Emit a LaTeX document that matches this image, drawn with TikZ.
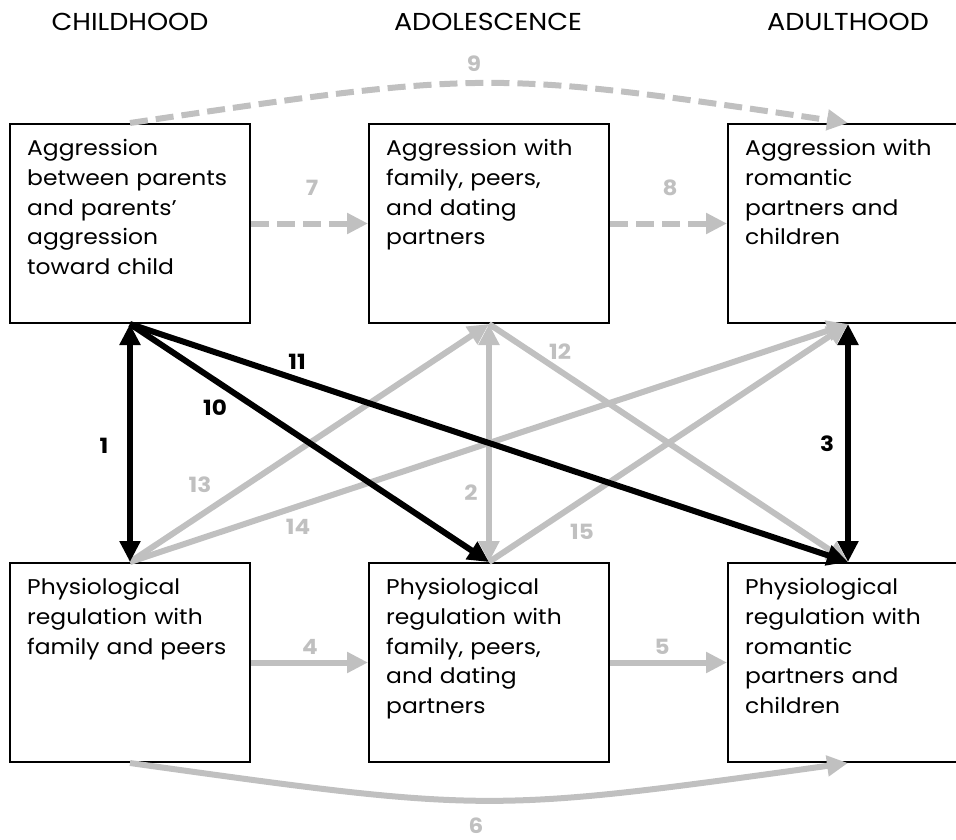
\documentclass[tikz,border=0pt]{standalone}
\usepackage{fontspec}
\setmainfont{Poppins}[FakeStretch=1.1]
\usetikzlibrary{arrows.meta}
\definecolor{pathgray}{RGB}{192,192,192}
\begin{document}
\begin{tikzpicture}[x=1pt,y=-1pt,
  box/.style={draw,line width=2pt,minimum width=240pt,minimum height=199pt,anchor=north west,inner sep=0pt},
  boxtext/.style={anchor=north west,align=left,text width=222pt,inner sep=0pt,font=\fontsize{21.3}{29.8}\selectfont},
  head/.style={font=\fontsize{24.5}{30}\selectfont},
  num/.style={font=\fontsize{21}{24}\selectfont\bfseries},
  tip/.style={-{Triangle[length=21pt,width=20pt]}},
  both/.style={{Triangle[length=21pt,width=20pt]}-{Triangle[length=21pt,width=20pt]}},
  gry/.style={line width=6pt,pathgray},
  blk/.style={line width=6pt,black},
  dsh/.style={gry,dash pattern=on 18pt off 8pt}]
\useasboundingbox (0,0) rectangle (956,840);
% periods
\node[head] (hchild) at (130,22) {CHILDHOOD};
\node[head] (hadol) at (488,22) {ADOLESCENCE};
\node[head] (hadult) at (848,22) {ADULTHOOD};
% boxes
\node[box] (a1) at (9,123) {};
\node[box] (a2) at (368,123) {};
\node[box] (a3) at (727,123) {};
\node[box] (p1) at (9,562) {};
\node[box] (p2) at (368,562) {};
\node[box] (p3) at (727,562) {};
\node[boxtext] at ([shift={(18,16)}]a1.north west) {Aggression\\between parents\\and parents'\\aggression\\toward child};
\node[boxtext] at ([shift={(18,16)}]a2.north west) {Aggression with\\family, peers,\\and dating\\partners};
\node[boxtext] at ([shift={(18,16)}]a3.north west) {Aggression with\\romantic\\partners and\\children};
\node[boxtext] at ([shift={(18,16)}]p1.north west) {Physiological\\regulation with\\family and peers};
\node[boxtext] at ([shift={(18,16)}]p2.north west) {Physiological\\regulation with\\family, peers,\\and dating\\partners};
\node[boxtext] at ([shift={(18,16)}]p3.north west) {Physiological\\regulation with\\romantic\\partners and\\children};
% grey paths
\draw[dsh,tip](a1.north) .. controls (488,70) .. (a3.north);
\draw[dsh,tip](a1.east)--(a2.west);
\draw[dsh,tip](a2.east)--(a3.west);
\draw[gry,tip](p1.east)--(p2.west);
\draw[gry,tip](p2.east)--(p3.west);
\draw[gry,tip](p1.south) .. controls (488,813) .. (p3.south);
\draw[gry,tip](a2.south)--(p3.north);
\draw[gry,tip](p1.north)--(a2.south);
\draw[gry,tip](p1.north)--(a3.south);
\draw[gry,tip](p2.north)--(a3.south);
\draw[gry,both](a2.south)--(p2.north);
% black paths
\draw[blk,both](a1.south)--(p1.north);
\draw[blk,both](a3.south)--(p3.north);
\draw[blk,tip](a1.south)--(p2.north);
\draw[blk,tip](a1.south)--(p3.north);
% numbers
\node[num,pathgray] at (474,64) {9};
\node[num,pathgray] at (312,188) {7};
\node[num,pathgray] at (670,188) {8};
\node[num] at (104,446) {1};
\node[num] at (215,408) {10};
\node[num] at (297,362) {11};
\node[num] at (827,444) {3};
\node[num,pathgray] at (471,493) {2};
\node[num,pathgray] at (560,352) {12};
\node[num,pathgray] at (200,485) {13};
\node[num,pathgray] at (298,527) {14};
\node[num,pathgray] at (582,532) {15};
\node[num,pathgray] at (310,647) {4};
\node[num,pathgray] at (662,647) {5};
\node[num,pathgray] at (476,826) {6};
\end{tikzpicture}
\end{document}
